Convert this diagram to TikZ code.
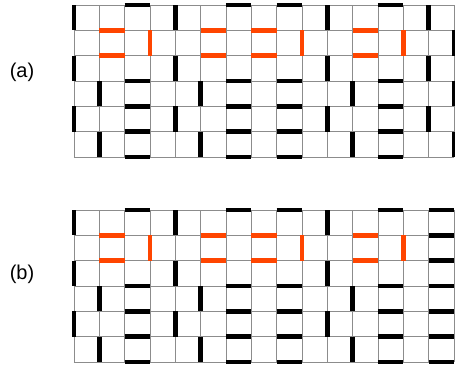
\documentclass[tikz,border=0pt]{standalone}
\usepackage{fontspec}
\setmainfont{Liberation Sans}
\definecolor{gridgray}{RGB}{140,140,140}
\definecolor{redorange}{RGB}{255,69,0}
\begin{document}
\begin{tikzpicture}[x=25.33pt,y=25.33pt,
  cellline/.style={draw=gridgray, line width=0.9pt, step=25.33pt},
  bar/.style={draw=black, line width=4.6pt},
  redbar/.style={draw=redorange, line width=4.6pt},
  tag/.style={font=\fontsize{20}{24}\selectfont}]
\useasboundingbox (-2.92,0.2) rectangle (15.04,-14.41);
% (a)
\draw[cellline] (0,0) grid (15,-6);
\foreach \r in {0,2,4} \foreach \v in {0,4,10,14} \draw[bar] (\v,-\r) -- (\v,-\r-1);
\foreach \r in {3,5} \foreach \v in {1,5,11,15} \draw[bar] (\v,-\r) -- (\v,-\r-1);
\draw[bar] (15,-1) -- (15,-2);
\foreach \h in {0,3,4,5,6} \foreach \c in {2,6,8,12} \draw[bar] (\c,-\h) -- (\c+1,-\h);
\foreach \h in {1,2} \foreach \c in {1,5,7,11} \draw[redbar] (\c,-\h) -- (\c+1,-\h);
\foreach \v in {3,9,13} \draw[redbar] (\v,-1) -- (\v,-2);
\node[tag] (labela) at (-2.05,-2.65) {(a)};
% (b)
\begin{scope}[yshift=-8.093*25.33pt]
\draw[cellline] (0,0) grid (15,-6);
\foreach \r in {0,2,4} \foreach \v in {0,4,10} \draw[bar] (\v,-\r) -- (\v,-\r-1);
\foreach \r in {3,5} \foreach \v in {1,5,11} \draw[bar] (\v,-\r) -- (\v,-\r-1);
\foreach \h in {0,3,4,5,6} \foreach \c in {2,6,8,12} \draw[bar] (\c,-\h) -- (\c+1,-\h);
\foreach \h in {0,...,6} \draw[bar] (14,-\h) -- (15,-\h);
\foreach \h in {1,2} \foreach \c in {1,5,7,11} \draw[redbar] (\c,-\h) -- (\c+1,-\h);
\foreach \v in {3,9,13} \draw[redbar] (\v,-1) -- (\v,-2);
\node[tag] (labelb) at (-2.05,-2.55) {(b)};
\end{scope}
\end{tikzpicture}
\end{document}
